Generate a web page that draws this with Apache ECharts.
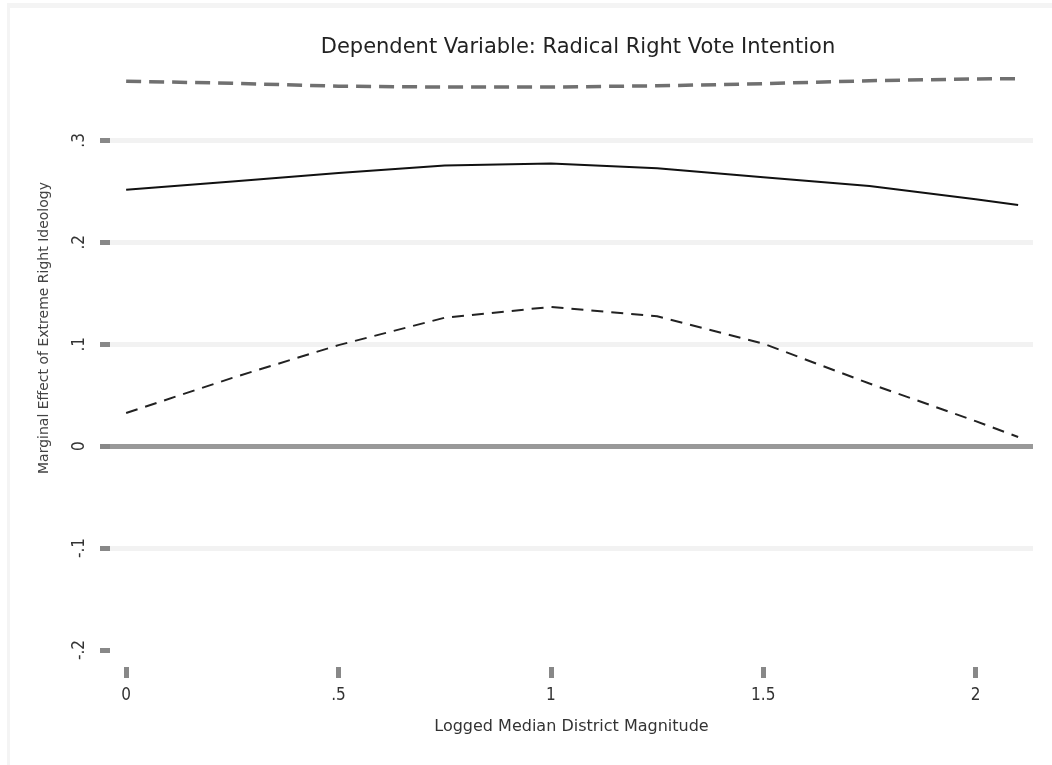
<!DOCTYPE html>
<html>
<head>
<meta charset="utf-8">
<script src="https://cdn.jsdelivr.net/npm/echarts@6/dist/echarts.min.js"></script>
<style>
    html, body { margin: 0; padding: 0; background: #fff; }
    #marginalChart { width: 1052px; height: 765px; }
</style>
</head>
<body>
<div id="marginalChart"></div>
<script>
// 横轴: logged median district magnitude
var xValues = [0, 0.25, 0.5, 0.75, 1, 1.25, 1.5, 1.75, 2, 2.1];
// 边际效应 + 置信区间上下界
var effect = [0.2515, 0.2597, 0.268, 0.2754, 0.2772, 0.2726, 0.2638, 0.2553, 0.2423, 0.2366];
var upperBound = [0.358, 0.356, 0.3531, 0.3523, 0.3523, 0.3535, 0.3556, 0.3585, 0.3603, 0.3605];
var lowerBound = [0.0325, 0.067, 0.0991, 0.126, 0.1366, 0.1274, 0.1006, 0.0614, 0.0245, 0.009];
// 刻度
var xTicks = [0, 0.5, 1, 1.5, 2];
var xTickLabels = ['0', '.5', '1', '1.5', '2'];
var yTicks = [-0.2, -0.1, 0, 0.1, 0.2, 0.3];
var yTickLabels = ['-.2', '-.1', '0', '.1', '.2', '.3'];

var narrowFont = "'DejaVu Sans Condensed', 'Liberation Sans Narrow', 'DejaVu Sans', sans-serif";
var wideFont = "'DejaVu Sans', 'Liberation Sans', sans-serif";

function pairUp (xs, ys) {
    var out = [];
    for (var i = 0; i < xs.length; i++) {
        out.push([xs[i], ys[i]]);
    }
    return out;
}

function tickLabel (ticks, labels, value) {
    for (var i = 0; i < ticks.length; i++) {
        if (Math.abs(ticks[i] - value) < 1e-6) return labels[i];
    }
    return '';
}

var myChart = echarts.init(document.getElementById('marginalChart'));

var option = {
    animation: false,
    backgroundColor: '#fff',
    title: {
        text: 'Dependent Variable: Radical Right Vote Intention',
        left: 573,
        textAlign: 'center',
        top: 32,
        textStyle: {
            fontFamily: wideFont,
            fontSize: 21,
            fontWeight: 'normal',
            color: '#222'
        }
    },
    grid: {
        left: 110,
        right: 19,
        top: 69,
        bottom: 115,
        outerBoundsMode: 'none'
    },
    xAxis: {
        type: 'value',
        min: -0.038,
        max: 2.135,
        offset: 17,
        name: 'Logged Median District Magnitude',
        nameLocation: 'middle',
        nameGap: 52,
        nameTextStyle: {
            fontFamily: wideFont,
            fontSize: 16,
            color: '#333'
        },
        axisLine: { show: false, onZero: false },
        axisTick: {
            show: true,
            customValues: xTicks,
            length: 11,
            lineStyle: { color: '#888', width: 5 }
        },
        axisLabel: {
            customValues: xTicks,
            margin: 20,
            fontFamily: narrowFont,
            fontSize: 17,
            color: '#333',
            formatter: function (v) { return tickLabel(xTicks, xTickLabels, v); }
        },
        splitLine: { show: false }
    },
    yAxis: {
        type: 'value',
        min: -0.2,
        max: 0.37,
        axisLine: { show: false, onZero: false },
        axisTick: {
            show: true,
            customValues: yTicks,
            length: 10,
            lineStyle: { color: '#888', width: 5 }
        },
        axisLabel: {
            customValues: yTicks,
            rotate: 90,
            margin: 22,
            fontFamily: narrowFont,
            fontSize: 17,
            color: '#333',
            formatter: function (v) { return tickLabel(yTicks, yTickLabels, v); }
        },
        splitLine: {
            show: true,
            lineStyle: {
                width: 5,
                // -.2 无网格线, 0 为深灰
                color: ['rgba(0,0,0,0)', '#f2f2f2', '#999999', '#f2f2f2', '#f2f2f2', '#f2f2f2', 'rgba(0,0,0,0)']
            }
        }
    },
    graphic: [
        { type: 'rect', silent: true, shape: { x: 7, y: 3, width: 1045, height: 5 }, style: { fill: '#f4f4f4' } },
        { type: 'rect', silent: true, shape: { x: 7, y: 3, width: 3, height: 762 }, style: { fill: '#f4f4f4' } },
        {
            type: 'text',
            silent: true,
            x: 44,
            y: 328,
            rotation: Math.PI / 2,
            style: {
                text: 'Marginal Effect of Extreme Right Ideology',
                fontFamily: wideFont,
                fontSize: 14,
                fill: '#444',
                align: 'center',
                verticalAlign: 'middle'
            }
        }
    ],
    series: [
        {
            name: 'upper',
            type: 'line',
            showSymbol: false,
            silent: true,
            data: pairUp(xValues, upperBound),
            lineStyle: { color: '#707070', width: 3.5, type: [15, 8] }
        },
        {
            name: 'effect',
            type: 'line',
            showSymbol: false,
            silent: true,
            data: pairUp(xValues, effect),
            lineStyle: { color: '#111', width: 2, type: 'solid' }
        },
        {
            name: 'lower',
            type: 'line',
            showSymbol: false,
            silent: true,
            data: pairUp(xValues, lowerBound),
            lineStyle: { color: '#222', width: 2, type: [12, 8] }
        }
    ]
};

myChart.setOption(option);
</script>
</body>
</html>
